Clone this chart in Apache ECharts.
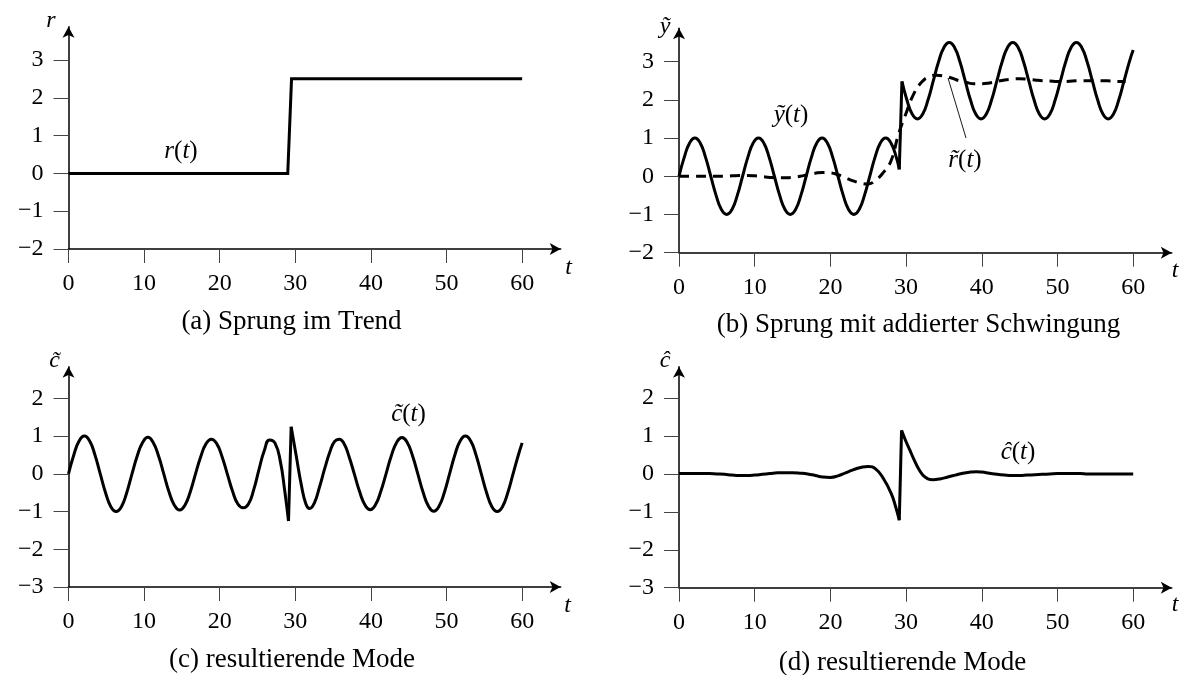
<!DOCTYPE html>
<html>
<head>
<meta charset="utf-8">
<script src="https://cdn.jsdelivr.net/npm/echarts@6/dist/echarts.min.js"></script>
<style>
html,body{margin:0;padding:0;background:#fff;}
#chart{width:1181px;height:675px;}
</style>
</head>
<body>
<div id="chart"></div>
<script>
// ---------- data ----------
const xTicks = [0, 10, 20, 30, 40, 50, 60];
const yTicksTop = [-2, -1, 0, 1, 2, 3];
const yTicksBottom = [-3, -2, -1, 0, 1, 2];

// (a) step in trend r(t)
const rSeries = [[0, 0], [29, 0], [29.5, 2.5], [60, 2.5]];

// (b) step with added oscillation y~(t), before and after the jump
const yTildePre = [[0,0],[0.7,0.5],[1.4,0.87],[2.1,1],[2.8,0.87],[3.5,0.5],[4.2,0],[4.9,-0.5],[5.6,-0.87],[6.3,-1],[7,-0.87],[7.7,-0.5],[8.4,0],[9.1,0.5],[9.8,0.87],[10.5,1],[11.2,0.87],[11.9,0.5],[12.6,0],[13.3,-0.5],[14,-0.87],[14.7,-1],[15.4,-0.87],[16.1,-0.5],[16.8,0],[17.5,0.5],[18.2,0.87],[18.9,1],[19.6,0.87],[20.3,0.5],[21,0],[21.7,-0.5],[22.4,-0.87],[23.1,-1],[23.8,-0.87],[24.5,-0.5],[25.2,0],[25.9,0.5],[26.6,0.87],[27.3,1],[28,0.87],[28.7,0.5],[29.1,0.18]];
const yTildePost = [[29.45,2.48],[30.1,2.0],[30.8,1.63],[31.5,1.5],[32.2,1.63],[32.9,2.0],[33.6,2.5],[34.3,3.0],[35,3.37],[35.7,3.5],[36.4,3.37],[37.1,3.0],[37.8,2.5],[38.5,2.0],[39.2,1.63],[39.9,1.5],[40.6,1.63],[41.3,2.0],[42,2.5],[42.7,3.0],[43.4,3.37],[44.1,3.5],[44.8,3.37],[45.5,3.0],[46.2,2.5],[46.9,2.0],[47.6,1.63],[48.3,1.5],[49,1.63],[49.7,2.0],[50.4,2.5],[51.1,3.0],[51.8,3.37],[52.5,3.5],[53.2,3.37],[53.9,3.0],[54.6,2.5],[55.3,2.0],[56,1.63],[56.7,1.5],[57.4,1.63],[58.1,2.0],[58.8,2.5],[59.5,3.0],[60,3.3]];
// (b) dashed r~(t)
const rTilde = [[0,0],[1,0],[2,0],[3,0],[4,0],[5,0],[6,0],[7,0.01],[8,0.02],[9,0.02],[10,0.01],[11,-0.01],[12,-0.03],[13,-0.04],[14,-0.04],[15,-0.03],[16,0],[17,0.04],[18,0.08],[19,0.1],[20,0.09],[21,0.04],[22,-0.04],[23,-0.12],[24,-0.18],[25,-0.2],[26,-0.1],[27,0.1],[28,0.4],[29,1.1],[30,1.65],[31,2.15],[32,2.45],[33,2.6],[34,2.64],[35,2.62],[36,2.57],[37,2.5],[38,2.45],[39,2.42],[40,2.42],[41,2.44],[42,2.48],[43,2.52],[44,2.54],[45,2.55],[46,2.54],[47,2.52],[48,2.5],[49,2.49],[50,2.48],[51,2.48],[52,2.49],[53,2.5],[54,2.5],[55,2.5],[56,2.5],[57,2.49],[58,2.48],[59,2.48]];

// (c) resulting mode c~(t)
const cTildePre = [[0,0],[0.7,0.5],[1.4,0.87],[2.1,1],[2.8,0.87],[3.5,0.5],[4.2,0],[4.9,-0.5],[5.6,-0.87],[6.3,-1],[7,-0.87],[7.7,-0.5],[8.4,0],[9.1,0.48],[9.8,0.83],[10.5,0.97],[11.2,0.83],[11.9,0.48],[12.6,0],[13.3,-0.48],[14,-0.83],[14.7,-0.96],[15.4,-0.83],[16.1,-0.48],[16.8,0],[17.5,0.46],[18.2,0.8],[18.9,0.92],[19.6,0.8],[20.3,0.46],[21,0],[21.7,-0.46],[22.4,-0.8],[23.1,-0.9],[23.8,-0.8],[24.5,-0.42],[25.2,0.12],[25.9,0.62],[26.6,0.9],[27.3,0.82],[28,0.35],[28.6,-0.45],[29.1,-1.25]];
const cTildePost = [[29.45,1.25],[30.1,0.5],[30.8,-0.3],[31.4,-0.8],[31.9,-0.92],[32.5,-0.78],[33.2,-0.35],[33.9,0.15],[34.6,0.6],[35.2,0.86],[35.8,0.92],[36.4,0.82],[37.1,0.46],[37.8,0],[38.5,-0.47],[39.2,-0.82],[39.9,-0.95],[40.6,-0.82],[41.3,-0.47],[42,0],[42.7,0.48],[43.4,0.83],[44.1,0.96],[44.8,0.83],[45.5,0.48],[46.2,0],[46.9,-0.49],[47.6,-0.85],[48.3,-0.99],[49,-0.86],[49.7,-0.5],[50.4,0],[51.1,0.5],[51.8,0.87],[52.5,1],[53.2,0.87],[53.9,0.5],[54.6,0],[55.3,-0.5],[56,-0.87],[56.7,-1],[57.4,-0.87],[58.1,-0.5],[58.8,0],[59.5,0.5],[60,0.82]];

// (d) resulting mode c^(t)
const cHatPre = [[0,0.01],[1,0.01],[2,0.01],[3,0.01],[4,0.01],[5,0],[6,-0.01],[7,-0.03],[8,-0.04],[9,-0.04],[10,-0.03],[11,-0.01],[12,0.01],[13,0.03],[14,0.03],[15,0.03],[16,0.02],[17,0],[18,-0.04],[19,-0.08],[20,-0.09],[21,-0.05],[22,0.03],[23,0.11],[24,0.17],[25,0.2],[26,0.13],[27,-0.12],[28,-0.5],[28.6,-0.85],[29.1,-1.22]];
const cHatPost = [[29.4,1.15],[30,0.85],[30.5,0.63],[31,0.4],[31.7,0.12],[32.5,-0.08],[33.5,-0.15],[34.5,-0.13],[35.5,-0.08],[36.5,-0.03],[37.5,0.02],[38.5,0.05],[39.3,0.06],[40,0.05],[41,0.02],[42,-0.01],[43,-0.03],[44,-0.04],[45,-0.04],[46,-0.03],[47,-0.02],[48,-0.01],[49,0],[50,0.01],[51,0.01],[52,0.01],[53,0.01],[54,0],[55,0],[56,0],[57,0],[58,0],[59,0],[60,0]];

const captions = ['(a) Sprung im Trend', '(b) Sprung mit addierter Schwingung', '(c) resultierende Mode', '(d) resultierende Mode'];

// ---------- chart ----------
const FONT = "'Liberation Serif', 'DejaVu Serif', serif";
const FS = 24;
const chart = echarts.init(document.getElementById('chart'), null, {renderer: 'canvas'});

const grids = [
  {left: 68.5, top: 26.7, width: 492.2, height: 222.3},
  {left: 679, top: 28.3, width: 492.8, height: 224.4},
  {left: 68.5, top: 366.7, width: 492.2, height: 220.3},
  {left: 679, top: 366.7, width: 492.8, height: 221}
];
const yRanges = [[-2, 3.88, yTicksTop], [-2, 3.87, yTicksTop], [-3, 2.84, yTicksBottom], [-3, 2.83, yTicksBottom]];

const fmt = v => String(v).replace('-', '\u2212');
const axisLineCommon = {show: true, onZero: false, symbol: ['none', 'arrow'], symbolSize: [9, 11], lineStyle: {color: '#000', width: 1.5}};

const xAxes = grids.map((g, i) => ({
  type: 'value', gridIndex: i, min: 0, max: 65.1, interval: 10,
  axisLine: axisLineCommon,
  axisTick: {show: true, length: 14, inside: false, customValues: xTicks, lineStyle: {color: '#444', width: 1}},
  axisLabel: {customValues: xTicks, margin: 23, fontFamily: FONT, fontSize: FS, color: '#000', formatter: fmt},
  splitLine: {show: false}
}));
const yAxes = grids.map((g, i) => ({
  type: 'value', gridIndex: i, min: yRanges[i][0], max: yRanges[i][1], interval: 1,
  axisLine: axisLineCommon,
  axisTick: {show: true, length: 15, inside: false, customValues: yRanges[i][2], lineStyle: {color: '#444', width: 1}},
  axisLabel: {customValues: yRanges[i][2], margin: 25, fontFamily: FONT, fontSize: FS, color: '#000', formatter: fmt},
  splitLine: {show: false}
}));

function line(idx, data, opts) {
  opts = opts || {};
  return {
    type: 'line', xAxisIndex: idx, yAxisIndex: idx, data: data,
    showSymbol: false, symbol: 'none', smooth: opts.smooth || false,
    lineStyle: {color: '#000', width: 3, type: opts.dash || 'solid', join: 'miter', miterLimit: 20, cap: 'butt'},
    z: opts.z || 2, silent: true
  };
}

const series = [
  line(0, rSeries),
  line(1, rTilde, {smooth: 0.5, dash: [10, 7], z: 3}),
  line(1, yTildePre, {smooth: 0.5}),
  line(1, [yTildePre[yTildePre.length - 1], yTildePost[0]]),
  line(1, yTildePost, {smooth: 0.5}),
  line(2, cTildePre, {smooth: 0.5}),
  line(2, [cTildePre[cTildePre.length - 1], cTildePost[0]]),
  line(2, cTildePost, {smooth: 0.5}),
  line(3, cHatPre, {smooth: 0.5}),
  line(3, [cHatPre[cHatPre.length - 1], cHatPost[0]]),
  line(3, cHatPost, {smooth: 0.5})
];

function txt(x, y, text, italic, size) {
  return {
    type: 'text', x: x, y: y, silent: true,
    style: {
      text: text, fill: '#000', fontFamily: FONT, fontSize: size || FS,
      fontStyle: italic ? 'italic' : 'normal', align: 'center', verticalAlign: 'middle',
      rich: {i: {fontFamily: FONT, fontSize: size || FS, fontStyle: 'italic'}, n: {fontFamily: FONT, fontSize: size || FS}}
    }
  };
}

const graphics = [
  // axis names
  txt(51, 21, 'r', true), txt(665, 27, '\u1EF9', true), txt(54.5, 361, 'c\u0303', true), txt(665, 361, '\u0109', true),
  txt(568.5, 268, 't', true), txt(1175, 271, 't', true), txt(567.5, 605.5, 't', true), txt(1175, 605, 't', true),
  // curve labels
  txt(181, 151.5, '{i|r}{n|(}{i|t}{n|)}', false, 25),
  txt(791, 115, '{i|\u1EF9}{n|(}{i|t}{n|)}', false, 25),
  txt(965, 160, '{i|r\u0303}{n|(}{i|t}{n|)}', false, 25),
  txt(408.5, 414, '{i|c\u0303}{n|(}{i|t}{n|)}', false, 25),
  txt(1018, 452, '{i|\u0109}{n|(}{i|t}{n|)}', false, 25),
  // pointer line to r~(t)
  {type: 'line', silent: true, shape: {x1: 948, y1: 78, x2: 966, y2: 138}, style: {stroke: '#000', lineWidth: 0.9}},
  // captions
  txt(291.5, 322, captions[0], false, 27),
  txt(918.5, 325, captions[1], false, 27),
  txt(292, 660, captions[2], false, 27),
  txt(902.5, 663, captions[3], false, 27)
];

chart.setOption({
  animation: false,
  backgroundColor: '#fff',
  grid: grids.map(g => Object.assign({containLabel: false}, g)),
  xAxis: xAxes,
  yAxis: yAxes,
  series: series,
  graphic: graphics
});
</script>
</body>
</html>
